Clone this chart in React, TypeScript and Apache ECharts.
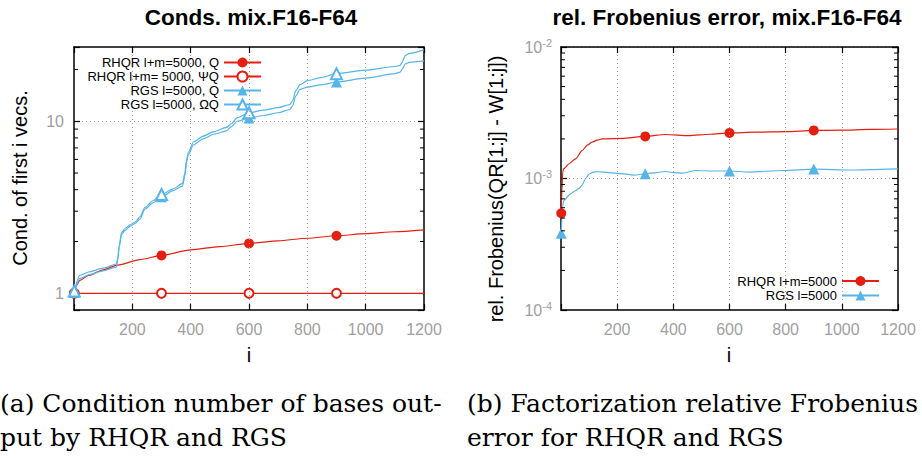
import React, { useEffect, useRef } from 'react';
import * as echarts from 'echarts';

// ---------- data ----------
const X_MIN = 0;
const X_MAX = 1200;
const X_STEP = 200;
const markerI = [1, 300, 600, 900];

// Left: condition numbers
const rhqrI = [1, 5, 10, 20, 50, 100, 150, 226, 300, 400, 500, 600, 700, 800, 900, 1000, 1100, 1200];
const rhqrQ = [1.0, 1.08, 1.12, 1.19, 1.27, 1.37, 1.46, 1.57, 1.66, 1.79, 1.87, 1.95, 2.02, 2.09, 2.16, 2.22, 2.28, 2.34];
const rhqrPsiI = [1, 300, 600, 900, 1200];
const rhqrPsiQ = [1.0, 1.0, 1.0, 1.0, 1.0];

const rgsI = [1, 20, 50, 100, 145, 150, 155, 163, 175, 192, 210, 226, 243, 270, 300, 340, 372, 380, 386, 392, 410, 443, 480, 523, 540, 560, 600, 650, 700, 740, 750, 760, 775, 800, 850, 900, 1000, 1100, 1118, 1125, 1135, 1150, 1200];
const rgsQ = [1.01, 1.22, 1.28, 1.35, 1.42, 1.55, 1.85, 2.2, 2.32, 2.45, 2.55, 2.7, 3.08, 3.35, 3.64, 3.95, 4.2, 4.8, 5.8, 6.4, 7.3, 7.9, 8.4, 8.8, 9.3, 10.0, 10.45, 10.8, 11.2, 11.7, 12.3, 14.0, 15.3, 15.8, 16.3, 16.9, 17.8, 18.9, 19.3, 20.0, 21.5, 22.0, 22.4];
const rgsOmegaQ = [1.03, 1.27, 1.33, 1.4, 1.48, 1.6, 1.9, 2.25, 2.38, 2.5, 2.6, 2.78, 3.15, 3.45, 3.75, 4.05, 4.35, 5.0, 6.0, 6.6, 7.6, 8.2, 8.7, 9.2, 9.7, 10.5, 11.2, 11.6, 12.0, 12.5, 13.2, 15.0, 16.3, 17.2, 18.0, 18.9, 19.8, 20.8, 21.1, 22.0, 24.0, 24.8, 26.0];

// Right: relative Frobenius error
const errRhqrI = [1, 3, 6, 10, 30, 52, 75, 95, 110, 130, 146, 216, 300, 372, 455, 530, 600, 695, 800, 900, 1000, 1100, 1200];
const errRhqr = [5.44e-4, 8.0e-4, 1.12e-3, 1.19e-3, 1.3e-3, 1.41e-3, 1.63e-3, 1.8e-3, 1.89e-3, 1.96e-3, 2.0e-3, 2.02e-3, 2.09e-3, 2.16e-3, 2.12e-3, 2.17e-3, 2.22e-3, 2.25e-3, 2.27e-3, 2.32e-3, 2.33e-3, 2.36e-3, 2.38e-3];
const errRgsI = [1, 3, 6, 10, 34, 52, 64, 75, 88, 100, 115, 130, 170, 216, 260, 300, 340, 372, 400, 434, 480, 540, 600, 670, 790, 900, 1035, 1100, 1200];
const errRgs = [3.84e-4, 5.0e-4, 6.2e-4, 6.8e-4, 7.65e-4, 8.1e-4, 8.4e-4, 8.9e-4, 1.0e-3, 1.08e-3, 1.12e-3, 1.125e-3, 1.11e-3, 1.09e-3, 1.06e-3, 1.085e-3, 1.11e-3, 1.13e-3, 1.11e-3, 1.1e-3, 1.15e-3, 1.14e-3, 1.14e-3, 1.12e-3, 1.15e-3, 1.18e-3, 1.16e-3, 1.17e-3, 1.185e-3];

const condRange = [0.8, 27];
const errRange = [1e-4, 1e-2];
const condMinorTicks = [2, 3, 4, 5, 6, 7, 8, 9, 20];
const errMinorTicks = [2e-4, 3e-4, 4e-4, 5e-4, 6e-4, 7e-4, 8e-4, 9e-4, 2e-3, 3e-3, 4e-3, 5e-3, 6e-3, 7e-3, 8e-3, 9e-3];

const leftNames = ['RHQR l+m=5000, Q', 'RHQR l+m= 5000, \u03A8Q', 'RGS l=5000, Q', 'RGS l=5000, \u03A9Q'];
const rightNames = ['RHQR l+m=5000', 'RGS l=5000'];

// ---------- styles ----------
const RED = '#e51e10';
const BLUE = '#56b4e9';
const GRAY = '#a0a0a0';
const SANS = '"Liberation Sans", Arial, Helvetica, sans-serif';
const SERIF = '"DejaVu Serif", "Liberation Serif", serif';

function buildData(xs: number[], ys: number[]) {
  return xs.map((x, k) =>
    markerI.includes(x) ? { value: [x, ys[k]] } : { value: [x, ys[k]], symbol: 'none' }
  );
}

function lineSeries(name: string, xs: number[], ys: number[], color: string, symbol: string, size: number, axis: number) {
  return {
    type: 'line',
    name,
    xAxisIndex: axis,
    yAxisIndex: axis,
    data: buildData(xs, ys),
    symbol,
    symbolSize: size,
    showAllSymbol: true,
    smooth: 0.25,
    smoothMonotone: 'x',
    lineStyle: { color, width: 1.2 },
    itemStyle: { color, borderColor: color, borderWidth: symbol.startsWith('empty') ? 1.3 : 0 },
    z: 3,
    clip: true,
  };
}

function minorTickSeries(values: number[], axis: number) {
  return {
    type: 'custom',
    xAxisIndex: axis,
    yAxisIndex: axis,
    silent: true,
    clip: false,
    z: 6,
    data: values.map((v) => [X_MIN, v]),
    renderItem: (_params: any, api: any) => {
      const v = api.value(1);
      const a = api.coord([X_MIN, v]);
      const b = api.coord([X_MAX, v]);
      const st = { stroke: '#000', lineWidth: 1 };
      return {
        type: 'group',
        children: [
          { type: 'line', shape: { x1: a[0], y1: a[1], x2: a[0] + 4, y2: a[1] }, style: st },
          { type: 'line', shape: { x1: b[0] - 4, y1: b[1], x2: b[0], y2: b[1] }, style: st },
        ],
      };
    },
  };
}

const axisLine = { show: true, onZero: false, lineStyle: { color: '#000', width: 1.5 } };
const axisTick = { show: true, inside: true, length: 6, lineStyle: { color: '#000', width: 1.2 } };
const gridLine = { show: true, showMinLine: false, showMaxLine: false, lineStyle: { color: GRAY, width: 1, type: [1, 3] } };

function xAxes(grid: number) {
  return [
    {
      gridIndex: grid, type: 'value', min: X_MIN, max: X_MAX, interval: X_STEP, position: 'bottom', z: 4,
      axisLine, axisTick,
      axisLabel: { color: GRAY, fontSize: 16, fontFamily: SANS, margin: 11, formatter: (v: number) => (v === 0 ? '' : String(v)) },
      splitLine: gridLine,
    },
    {
      gridIndex: grid, type: 'value', min: X_MIN, max: X_MAX, interval: X_STEP, position: 'top', z: 4,
      axisLine, axisTick, axisLabel: { show: false }, splitLine: { show: false },
    },
  ];
}

const titleStyle = { fontSize: 22.5, fontWeight: 'bold', fontFamily: SANS, fill: '#000', align: 'center', verticalAlign: 'middle' };
const nameStyle = { fontSize: 20, fontFamily: SANS, fill: '#000', align: 'center', verticalAlign: 'middle' };
const capStyle = { fontSize: 25, fontFamily: SERIF, fill: '#000', align: 'left', verticalAlign: 'middle' };

export default function App() {
  const ref = useRef<HTMLDivElement>(null);
  useEffect(() => {
    document.body.style.margin = '0';
    const chart = echarts.init(ref.current!, undefined, { renderer: 'svg' });
    const option = {
      animation: false,
      backgroundColor: '#fff',
      grid: [
        { left: 74, top: 47, width: 350, height: 263 },
        { left: 561, top: 47, width: 337, height: 263 },
      ],
      xAxis: [...xAxes(0), ...xAxes(1)],
      yAxis: [
        {
          gridIndex: 0, type: 'log', logBase: 10, min: condRange[0], max: condRange[1], position: 'left', z: 3,
          axisLine, axisTick,
          axisLabel: {
            color: GRAY, fontSize: 16, fontFamily: SANS, margin: 10,
            formatter: (v: number) => (Math.abs(v - 1) < 1e-6 ? '1' : Math.abs(v - 10) < 1e-5 ? '10' : ''),
          },
          splitLine: gridLine,
        },
        {
          gridIndex: 0, type: 'log', logBase: 10, min: condRange[0], max: condRange[1], position: 'right', z: 3,
          axisLine, axisTick, axisLabel: { show: false }, splitLine: { show: false },
        },
        {
          gridIndex: 1, type: 'log', logBase: 10, min: errRange[0], max: errRange[1], position: 'left', z: 3,
          axisLine, axisTick,
          axisLabel: {
            margin: 9,
            formatter: (v: number) => `{b|10}{s|${Math.round(Math.log10(v))}}`,
            rich: {
              b: { color: GRAY, fontSize: 16, fontFamily: SANS, lineHeight: 20 },
              s: { color: GRAY, fontSize: 11, fontFamily: SANS, lineHeight: 11, verticalAlign: 'top' },
            },
          },
          splitLine: gridLine,
        },
        {
          gridIndex: 1, type: 'log', logBase: 10, min: errRange[0], max: errRange[1], position: 'right', z: 3,
          axisLine, axisTick, axisLabel: { show: false }, splitLine: { show: false },
        },
      ],
      legend: [
        {
          data: leftNames, orient: 'vertical', align: 'right', right: 922 - 262, top: 56,
          itemWidth: 37, itemHeight: 12.5, itemGap: 1, padding: 0, selectedMode: false,
          textStyle: { fontSize: 13, fontFamily: SANS, color: '#000' },
        },
        {
          data: rightNames, orient: 'vertical', align: 'right', right: 922 - 880, top: 274.5,
          itemWidth: 37, itemHeight: 12.5, itemGap: 1.5, padding: 0, selectedMode: false,
          textStyle: { fontSize: 13, fontFamily: SANS, color: '#000' },
        },
      ],
      series: [
        lineSeries(leftNames[0], rhqrI, rhqrQ, RED, 'circle', 10, 0),
        lineSeries(leftNames[1], rhqrPsiI, rhqrPsiQ, RED, 'emptyCircle', 9, 0),
        lineSeries(leftNames[2], rgsI, rgsQ, BLUE, 'triangle', 11, 0),
        lineSeries(leftNames[3], rgsI, rgsOmegaQ, BLUE, 'emptyTriangle', 11, 0),
        lineSeries(rightNames[0], errRhqrI, errRhqr, RED, 'circle', 10, 2),
        lineSeries(rightNames[1], errRgsI, errRgs, BLUE, 'triangle', 11, 2),
        minorTickSeries(condMinorTicks, 0),
        minorTickSeries(errMinorTicks, 2),
      ],
      graphic: [
        { type: 'text', x: 251, y: 17, style: { text: 'Conds. mix.F16-F64', ...titleStyle } },
        { type: 'text', x: 727, y: 17, style: { text: 'rel. Frobenius error, mix.F16-F64', ...titleStyle } },
        { type: 'text', x: 20, y: 178, rotation: Math.PI / 2, style: { text: 'Cond. of first i vecs.', ...nameStyle } },
        { type: 'text', x: 496, y: 189, rotation: Math.PI / 2, style: { text: 'rel. Frobenius(QR[1:j] - W[1:j])', ...nameStyle } },
        { type: 'text', x: 249, y: 355, style: { text: 'i', ...nameStyle } },
        { type: 'text', x: 729, y: 355, style: { text: 'i', ...nameStyle } },
        { type: 'text', x: 0, y: 403, style: { text: '(a) Condition number of bases out-', ...capStyle } },
        { type: 'text', x: 0, y: 437, style: { text: 'put by RHQR and RGS', ...capStyle } },
        { type: 'text', x: 467, y: 403, style: { text: '(b) Factorization relative Frobenius', ...capStyle } },
        { type: 'text', x: 467, y: 437, style: { text: 'error for RHQR and RGS', ...capStyle } },
      ],
    };
    chart.setOption(option as any);
    return () => chart.dispose();
  }, []);
  return <div ref={ref} style={{ position: 'absolute', left: 0, top: 0, width: 922, height: 458 }} />;
}
